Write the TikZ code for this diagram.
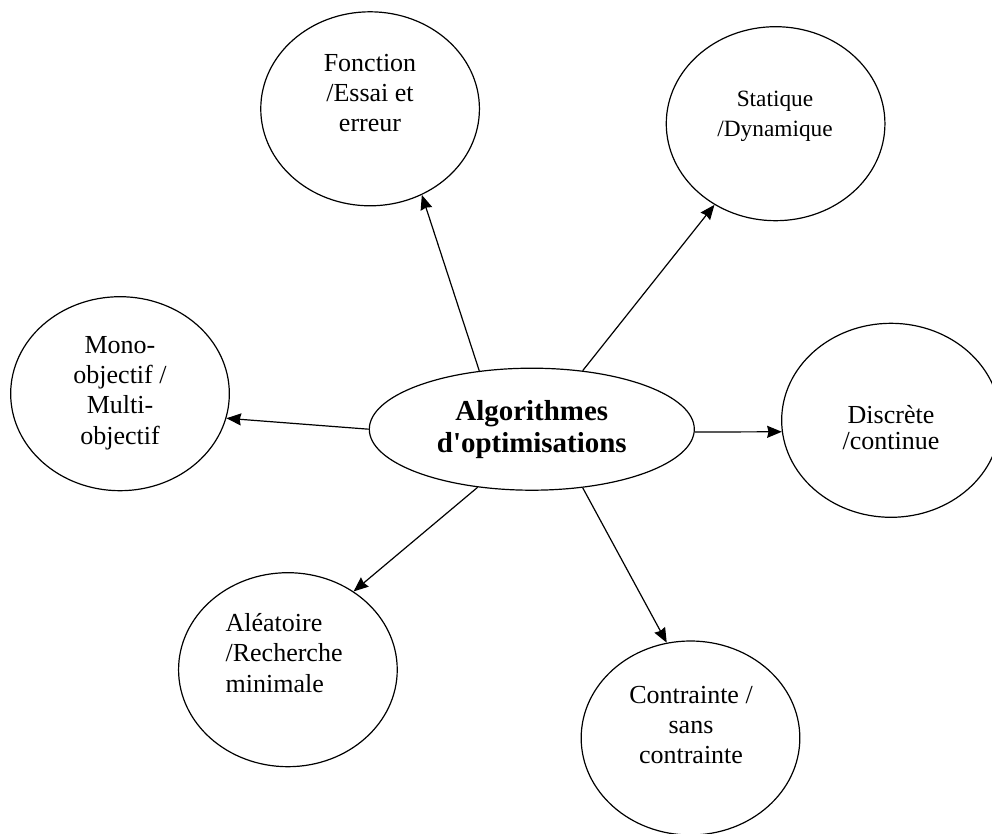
\documentclass[tikz,border=0pt]{standalone}
\usepackage{fontspec}
\setmainfont{Liberation Serif}[Ligatures=TeXOff]
\usetikzlibrary{shapes.geometric,arrows.meta}

\begin{document}
\begin{tikzpicture}[x=0.75pt,y=-0.75pt,->,>={Stealth[length=11pt,width=9pt,inset=1pt]},line width=0.9pt,
  bulle/.style={draw,ellipse,minimum width=164pt,minimum height=145.5pt,inner sep=0pt},
  txt/.style={align=center,inner sep=0pt,font=\fontsize{19.5}{22.75}\selectfont}]
  \useasboundingbox (0,0) rectangle (992,834);
  \node[draw,ellipse,minimum width=243.75pt,minimum height=91.5pt,inner sep=2pt,align=center,
    font=\bfseries\fontsize{21.7}{24}\selectfont] (alg) at (531.8,429.2) {Algorithmes\\d'optimisations};

  \node[bulle] (fon) at (370.1,108.8) {};
  \node[txt] (fon-t) at (370,93) {Fonction\\/Essai et\\erreur};
  \node[bulle] (sta) at (775.6,123.7) {};
  \node[txt,font=\fontsize{17.5}{22.5}\selectfont] (sta-t) at (775,116) {Statique\\/Dynamique};
  \node[bulle] (mono) at (120,393.7) {};
  \node[txt] (mono-t) at (120,393) {Mono-\\objectif /\\Multi-\\objectif};
  \node[bulle] (dis) at (891,420.3) {};
  \node[txt,font=\fontsize{19.5}{19.5}\selectfont] (dis-t) at (891,428) {Discrète\\/continue};
  \node[bulle] (ale) at (287.9,669.7) {};
  \node[txt,align=left,anchor=west] (ale-t) at (225,653) {Aléatoire\\/Recherche\\minimale};
  \node[bulle] (con) at (690.5,738) {};
  \node[txt] (con-t) at (691,725) {Contrainte /\\sans\\contrainte};

  \draw (alg.132.5) -- (fon.301.4);
  \draw (alg.49) -- (sta.233.5);
  \draw (alg.180) -- (mono.347);
  \draw (alg.-1) -- (dis.186.4);
  \draw (alg.227.5) -- (ale.50.3);
  \draw (alg.311) -- (con.104.8);
\end{tikzpicture}
\end{document}
